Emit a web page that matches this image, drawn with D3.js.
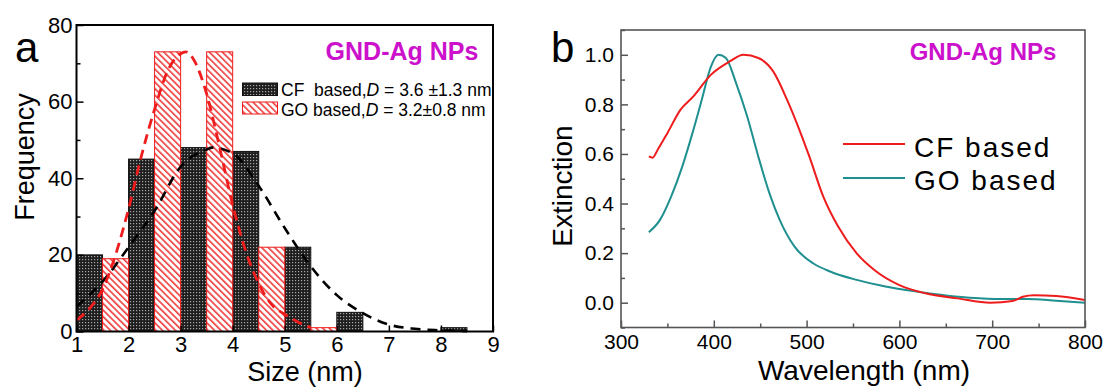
<!DOCTYPE html>
<html>
<head>
<meta charset="utf-8">
<script src="https://cdn.jsdelivr.net/npm/d3@7"></script>
<style>
  body { margin: 0; background: #fff; }
  svg { font-family: "Liberation Sans", Arial, sans-serif; }
</style>
</head>
<body>
<div id="d3-container"></div>
<script>
/**
 * DATA
 * */
// panel a: size histogram (bin left edge, count), bin width 0.5 nm
const cfStart = [1, 2, 3, 4, 5, 6, 8];
const cfCount = [20, 45, 48, 47, 22, 5, 1];
const goStart = [1.5, 2.5, 3.5, 4.5, 5.5];
const goCount = [19, 73, 73, 22, 1];
const binWidth = 0.5;

// fitted curves
const cfFitX = [1, 1.5, 2, 2.5, 3, 3.5, 3.6, 4, 4.5, 5, 5.5, 6, 6.5, 7, 7.5, 8, 8.5];
const cfFitY = [6.5, 13, 22, 31.5, 43, 47.5, 48, 46.5, 38, 27, 17, 9.5, 4.8, 1.8, 0.7, 0.3, 0.1];
const goFitX = [1, 1.25, 1.5, 1.75, 2, 2.25, 2.5, 2.75, 3, 3.1, 3.25, 3.5, 3.75, 4, 4.25, 4.5, 4.75, 5, 5.25, 5.5];
const goFitY = [3, 6, 11, 20, 32, 46, 58, 68, 72.5, 73, 71, 62, 48, 33, 21, 12.5, 7, 4.5, 2.5, 1];

const sizeTicks = [1, 2, 3, 4, 5, 6, 7, 8, 9];
const freqTicks = [0, 20, 40, 60, 80];
const freqMinor = [10, 30, 50, 70];

// panel b: extinction spectra
const cfWl = [330, 334, 340, 350, 364, 378, 397, 417, 432, 448, 464, 479, 495, 503, 518, 534, 554, 573, 600, 628, 663, 698, 722, 733, 745, 769, 800];
const cfExt = [0.59, 0.585, 0.62, 0.684, 0.778, 0.832, 0.92, 0.973, 1.0, 0.987, 0.933, 0.818, 0.67, 0.589, 0.428, 0.307, 0.199, 0.132, 0.071, 0.038, 0.0175, 0.0, 0.007, 0.024, 0.03, 0.027, 0.011];
const goWl = [330, 342, 354, 366, 377, 387, 397, 405, 413, 424, 436, 448, 460, 471, 487, 507, 526, 554, 585, 620, 663, 702, 737, 769, 800];
const goExt = [0.284, 0.334, 0.428, 0.549, 0.684, 0.818, 0.953, 1.0, 0.987, 0.886, 0.751, 0.589, 0.441, 0.334, 0.226, 0.159, 0.125, 0.092, 0.065, 0.044, 0.024, 0.015, 0.015, 0.008, 0.0];

const wlTicks = [300, 400, 500, 600, 700, 800];
const wlMinor = [350, 450, 550, 650, 750];
const extTicks = [0, 0.2, 0.4, 0.6, 0.8, 1.0];
const extMinor = [-0.1, 0.1, 0.3, 0.5, 0.7, 0.9, 1.1];

const red = "#ee1c1c", teal = "#1f8f8f", magenta = "#cc11cc";

const svg = d3.select("#d3-container")
  .append("svg")
  .attr("width", 1113)
  .attr("height", 392);

// patterns
const defs = svg.append("defs");
const dots = defs.append("pattern")
  .attr("id", "dots").attr("patternUnits", "userSpaceOnUse")
  .attr("width", 3).attr("height", 3);
dots.append("rect").attr("width", 3).attr("height", 3).attr("fill", "#1e1e1e");
dots.append("rect").attr("x", 1).attr("y", 1).attr("width", 1.2).attr("height", 1.2).attr("fill", "#a8a8a8");

const hatch = defs.append("pattern")
  .attr("id", "hatch").attr("patternUnits", "userSpaceOnUse")
  .attr("width", 4.6).attr("height", 4.6)
  .attr("patternTransform", "rotate(-45)");
hatch.append("rect").attr("width", 4.6).attr("height", 4.6).attr("fill", "#fff");
hatch.append("line").attr("x1", 0).attr("y1", 0).attr("x2", 0).attr("y2", 4.6)
  .attr("stroke", "#f03a3a").attr("stroke-width", 3.2);

/**
 * PANEL A
 * */
const xA = d3.scaleLinear().domain([1, 9]).range([76.5, 493]);
const yA = d3.scaleLinear().domain([0, 80]).range([331.5, 25]);
const gA = svg.append("g");

gA.selectAll("rect.cf")
  .data(cfStart.map((s, i) => ({ s, c: cfCount[i] })))
  .join("rect")
  .attr("class", "cf")
  .attr("x", d => xA(d.s))
  .attr("y", d => yA(d.c))
  .attr("width", d => xA(d.s + binWidth) - xA(d.s))
  .attr("height", d => yA(0) - yA(d.c))
  .attr("fill", "url(#dots)")
  .attr("stroke", "#111")
  .attr("stroke-width", 1);

gA.selectAll("rect.go")
  .data(goStart.map((s, i) => ({ s, c: goCount[i] })))
  .join("rect")
  .attr("class", "go")
  .attr("x", d => xA(d.s))
  .attr("y", d => yA(d.c))
  .attr("width", d => xA(d.s + binWidth) - xA(d.s))
  .attr("height", d => yA(0) - yA(d.c))
  .attr("fill", "url(#hatch)")
  .attr("stroke", red)
  .attr("stroke-width", 1);

const lineA = d3.line().x(d => xA(d[0])).y(d => yA(d[1])).curve(d3.curveMonotoneX);
gA.append("path")
  .attr("d", lineA(cfFitX.map((x, i) => [x, cfFitY[i]])))
  .attr("fill", "none").attr("stroke", "#000")
  .attr("stroke-width", 2.6).attr("stroke-dasharray", "10,7");
gA.append("path")
  .attr("d", lineA(goFitX.map((x, i) => [x, goFitY[i]])))
  .attr("fill", "none").attr("stroke", red)
  .attr("stroke-width", 2.8).attr("stroke-dasharray", "10,6");

// frame and axes
gA.append("rect")
  .attr("x", xA(1)).attr("y", yA(80))
  .attr("width", xA(9) - xA(1)).attr("height", yA(0) - yA(80))
  .attr("fill", "none").attr("stroke", "#000").attr("stroke-width", 2);

gA.append("g")
  .attr("transform", `translate(0,${yA(0)})`)
  .call(d3.axisBottom(xA).tickValues(sizeTicks).tickSize(-6).tickPadding(5).tickFormat(d3.format("d")))
  .call(g => g.select(".domain").remove())
  .call(g => g.selectAll("line").attr("stroke", "#000").attr("stroke-width", 1.5))
  .call(g => g.selectAll("text").attr("font-size", 22).attr("fill", "#000").attr("font-family", null));

gA.append("g")
  .attr("transform", `translate(${xA(1)},0)`)
  .call(d3.axisLeft(yA).tickValues(freqTicks).tickSize(-7).tickPadding(4).tickFormat(d3.format("d")))
  .call(g => g.select(".domain").remove())
  .call(g => g.selectAll("line").attr("stroke", "#000").attr("stroke-width", 1.5))
  .call(g => g.selectAll("text").attr("font-size", 22).attr("fill", "#000").attr("font-family", null));

gA.append("g")
  .attr("transform", `translate(${xA(1)},0)`)
  .call(d3.axisLeft(yA).tickValues(freqMinor).tickSize(-4).tickFormat(""))
  .call(g => g.select(".domain").remove())
  .call(g => g.selectAll("line").attr("stroke", "#000").attr("stroke-width", 1.5));

gA.append("text").attr("x", 15).attr("y", 62).attr("font-size", 42).text("a");
gA.append("text")
  .attr("transform", "translate(34,157) rotate(-90)")
  .attr("text-anchor", "middle").attr("font-size", 27).text("Frequency");
gA.append("text").attr("x", 305).attr("y", 381)
  .attr("text-anchor", "middle").attr("font-size", 27).text("Size (nm)");
gA.append("text").attr("x", 402).attr("y", 60)
  .attr("text-anchor", "middle").attr("font-size", 25).attr("font-weight", "bold")
  .attr("fill", magenta).text("GND-Ag NPs");

// legend a
const legA = gA.append("g");
legA.append("rect").attr("x", 242.5).attr("y", 83).attr("width", 35).attr("height", 12.5)
  .attr("fill", "url(#dots)").attr("stroke", "#111");
legA.append("rect").attr("x", 242.5).attr("y", 102).attr("width", 35).attr("height", 12)
  .attr("fill", "url(#hatch)").attr("stroke", red);
const t1 = legA.append("text").attr("x", 281).attr("y", 96).attr("font-size", 17.5).attr("xml:space", "preserve");
t1.append("tspan").text("CF  based,");
t1.append("tspan").attr("font-style", "italic").text("D");
t1.append("tspan").text(" = 3.6 \u00b11.3 nm");
const t2 = legA.append("text").attr("x", 281).attr("y", 115.5).attr("font-size", 17.5).attr("xml:space", "preserve");
t2.append("tspan").text("GO based,");
t2.append("tspan").attr("font-style", "italic").text("D");
t2.append("tspan").text(" = 3.2\u00b10.8 nm");

/**
 * PANEL B
 * */
const xB = d3.scaleLinear().domain([300, 800]).range([621, 1085]);
const yB = d3.scaleLinear().domain([-0.1, 1.1]).range([327.5, 30]);
const gB = svg.append("g");
const axisCol = "#555";

const lineB = d3.line().x(d => xB(d[0])).y(d => yB(d[1])).curve(d3.curveMonotoneX);
gB.append("path")
  .attr("d", lineB(goWl.map((x, i) => [x, goExt[i]])))
  .attr("fill", "none").attr("stroke", teal).attr("stroke-width", 2);
gB.append("path")
  .attr("d", lineB(cfWl.map((x, i) => [x, cfExt[i]])))
  .attr("fill", "none").attr("stroke", red).attr("stroke-width", 2);

gB.append("rect")
  .attr("x", xB(300)).attr("y", yB(1.1))
  .attr("width", xB(800) - xB(300)).attr("height", yB(-0.1) - yB(1.1))
  .attr("fill", "none").attr("stroke", axisCol).attr("stroke-width", 1.6);

gB.append("g")
  .attr("transform", `translate(0,${yB(-0.1)})`)
  .call(d3.axisBottom(xB).tickValues(wlTicks).tickSize(-7).tickPadding(7).tickFormat(d3.format("d")))
  .call(g => g.select(".domain").remove())
  .call(g => g.selectAll("line").attr("stroke", axisCol).attr("stroke-width", 1.5))
  .call(g => g.selectAll("text").attr("font-size", 21).attr("fill", "#000").attr("font-family", null));
gB.append("g")
  .attr("transform", `translate(0,${yB(-0.1)})`)
  .call(d3.axisBottom(xB).tickValues(wlMinor).tickSize(-4).tickFormat(""))
  .call(g => g.select(".domain").remove())
  .call(g => g.selectAll("line").attr("stroke", axisCol).attr("stroke-width", 1.5));

gB.append("g")
  .attr("transform", `translate(${xB(300)},0)`)
  .call(d3.axisLeft(yB).tickValues(extTicks).tickSize(-7).tickPadding(7).tickFormat(d3.format(".1f")))
  .call(g => g.select(".domain").remove())
  .call(g => g.selectAll("line").attr("stroke", axisCol).attr("stroke-width", 1.5))
  .call(g => g.selectAll("text").attr("font-size", 21).attr("fill", "#000").attr("font-family", null));
gB.append("g")
  .attr("transform", `translate(${xB(300)},0)`)
  .call(d3.axisLeft(yB).tickValues(extMinor).tickSize(-4).tickFormat(""))
  .call(g => g.select(".domain").remove())
  .call(g => g.selectAll("line").attr("stroke", axisCol).attr("stroke-width", 1.5));

gB.append("text").attr("x", 551).attr("y", 62).attr("font-size", 42).text("b");
gB.append("text")
  .attr("transform", "translate(572,186) rotate(-90)")
  .attr("text-anchor", "middle").attr("font-size", 28).text("Extinction");
gB.append("text").attr("x", 864).attr("y", 380)
  .attr("text-anchor", "middle").attr("font-size", 28).text("Wavelength (nm)");
gB.append("text").attr("x", 983).attr("y", 60)
  .attr("text-anchor", "middle").attr("font-size", 24).attr("font-weight", "bold")
  .attr("fill", magenta).text("GND-Ag NPs");

// legend b
const legB = gB.append("g");
[["CF based", red, 144, 156.5], ["GO based", teal, 178, 190]].forEach(([lab, col, ly, ty]) => {
  legB.append("line").attr("x1", 843).attr("x2", 905).attr("y1", ly).attr("y2", ly)
    .attr("stroke", col).attr("stroke-width", 2);
  legB.append("text").attr("x", 914).attr("y", ty).attr("font-size", 28)
    .attr("letter-spacing", 2).text(lab);
});
</script>
</body>
</html>
